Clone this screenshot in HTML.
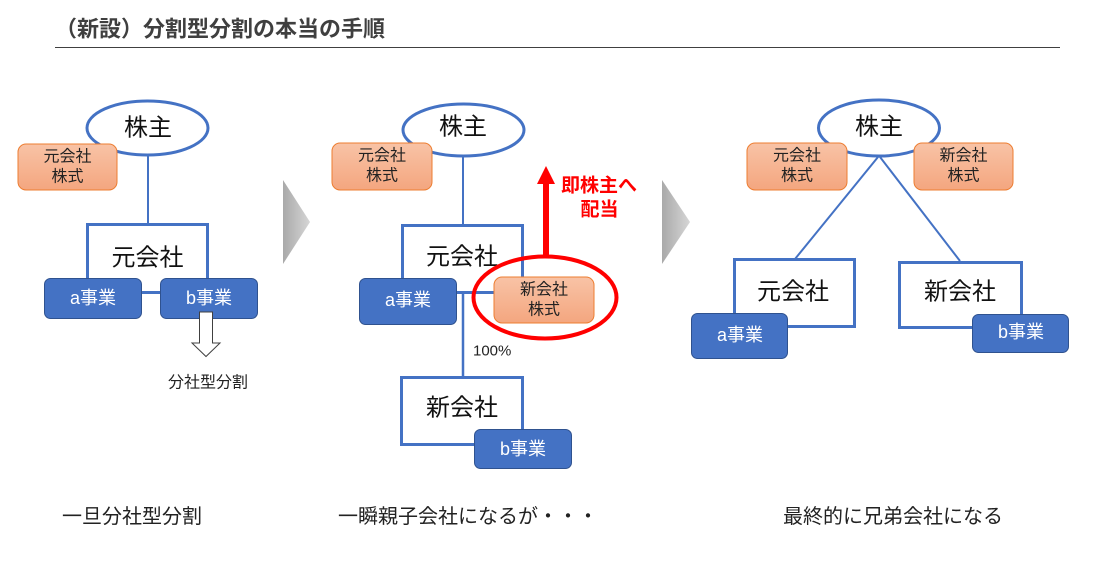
<!DOCTYPE html>
<html><head><meta charset="utf-8"><style>
html,body{margin:0;padding:0;background:#fff;}
svg{display:block;}
text{font-family:"Liberation Sans","Noto Sans CJK JP",sans-serif;}
</style></head><body>
<svg width="1095" height="564" viewBox="0 0 1095 564" xmlns="http://www.w3.org/2000/svg">
<defs>
<linearGradient id="og" x1="0" y1="0" x2="0" y2="1"><stop offset="0" stop-color="#f8c3a6"/><stop offset="1" stop-color="#f4a67f"/></linearGradient>
<linearGradient id="gg" x1="0" y1="0" x2="1" y2="0"><stop offset="0" stop-color="#a9a9a9"/><stop offset="1" stop-color="#d6d6d6"/></linearGradient>
</defs>
<rect width="1095" height="564" fill="#fff"/>
<!-- title -->
<text x="55" y="29" font-size="22" font-weight="bold" fill="#3f3f3f" dominant-baseline="central">（新設）分割型分割の本当の手順</text>
<line x1="55" y1="47.5" x2="1060" y2="47.5" stroke="#404040" stroke-width="1"/>

<!-- ===== Panel 1 ===== -->
<line x1="148" y1="156" x2="148" y2="224" stroke="#4472c4" stroke-width="2"/>
<ellipse cx="147.5" cy="128" rx="60.5" ry="27" fill="#fff" stroke="#4472c4" stroke-width="3"/>
<text x="148" y="128" font-size="24" fill="#111" text-anchor="middle" dominant-baseline="central">株主</text>
<rect x="18" y="144" width="99" height="46" rx="8" fill="url(#og)" stroke="#ed7d31" stroke-width="1"/>
<text x="67.5" y="157" font-size="16" fill="#222" text-anchor="middle" dominant-baseline="central">元会社</text>
<text x="67.5" y="177" font-size="16" fill="#222" text-anchor="middle" dominant-baseline="central">株式</text>
<rect x="87.5" y="224.5" width="120" height="68" fill="#fff" stroke="#4472c4" stroke-width="3"/>
<text x="147.5" y="258" font-size="24" fill="#111" text-anchor="middle" dominant-baseline="central">元会社</text>
<rect x="44.5" y="278.5" width="97" height="40" rx="6" fill="#4472c4" stroke="#2f528f" stroke-width="1"/>
<text x="93" y="298" font-size="18" fill="#fff" text-anchor="middle" dominant-baseline="central">a事業</text>
<rect x="160.5" y="278.5" width="97" height="40" rx="6" fill="#4472c4" stroke="#2f528f" stroke-width="1"/>
<text x="209" y="298" font-size="18" fill="#fff" text-anchor="middle" dominant-baseline="central">b事業</text>
<polygon points="199.5,312 212.5,312 212.5,343 220,343 206,356.5 192,343 199.5,343" fill="#fff" stroke="#404040" stroke-width="1"/>
<text x="208" y="383" font-size="16" fill="#222" text-anchor="middle" dominant-baseline="central">分社型分割</text>

<!-- gray arrow 1 -->
<polygon points="283,180 310,222 283,264" fill="url(#gg)"/>

<!-- ===== Panel 2 ===== -->
<line x1="463" y1="156" x2="463" y2="225" stroke="#4472c4" stroke-width="2"/>
<ellipse cx="463.5" cy="130" rx="60.5" ry="26" fill="#fff" stroke="#4472c4" stroke-width="3"/>
<text x="463" y="127" font-size="24" fill="#111" text-anchor="middle" dominant-baseline="central">株主</text>
<rect x="332" y="143" width="100" height="47" rx="8" fill="url(#og)" stroke="#ed7d31" stroke-width="1"/>
<text x="382" y="156" font-size="16" fill="#222" text-anchor="middle" dominant-baseline="central">元会社</text>
<text x="382" y="176" font-size="16" fill="#222" text-anchor="middle" dominant-baseline="central">株式</text>
<rect x="402.5" y="225.5" width="120" height="67" fill="#fff" stroke="#4472c4" stroke-width="3"/>
<text x="462" y="257" font-size="24" fill="#111" text-anchor="middle" dominant-baseline="central">元会社</text>
<line x1="463" y1="292" x2="463" y2="377" stroke="#4472c4" stroke-width="2.5"/>
<rect x="359.5" y="278.5" width="97" height="46" rx="6" fill="#4472c4" stroke="#2f528f" stroke-width="1"/>
<text x="408" y="300" font-size="18" fill="#fff" text-anchor="middle" dominant-baseline="central">a事業</text>
<rect x="494" y="277" width="100" height="46" rx="8" fill="url(#og)" stroke="#ed7d31" stroke-width="1"/>
<text x="544" y="290" font-size="16" fill="#222" text-anchor="middle" dominant-baseline="central">新会社</text>
<text x="544" y="310" font-size="16" fill="#222" text-anchor="middle" dominant-baseline="central">株式</text>
<ellipse cx="545" cy="297.5" rx="71.5" ry="41" fill="none" stroke="#f00" stroke-width="4"/>
<!-- red arrow -->
<rect x="543" y="182" width="6" height="75" fill="#f00"/>
<polygon points="537,184 555,184 546,166" fill="#f00"/>
<text x="599" y="186" font-size="19" font-weight="bold" fill="#f00" text-anchor="middle" dominant-baseline="central">即株主へ</text>
<text x="599.5" y="210" font-size="19" font-weight="bold" fill="#f00" text-anchor="middle" dominant-baseline="central">配当</text>
<text x="473" y="351" font-size="15" fill="#222" dominant-baseline="central">100%</text>
<rect x="401.5" y="377.5" width="121" height="67" fill="#fff" stroke="#4472c4" stroke-width="3"/>
<text x="462" y="408" font-size="24" fill="#111" text-anchor="middle" dominant-baseline="central">新会社</text>
<rect x="474.5" y="429.5" width="97" height="39" rx="6" fill="#4472c4" stroke="#2f528f" stroke-width="1"/>
<text x="523" y="449" font-size="18" fill="#fff" text-anchor="middle" dominant-baseline="central">b事業</text>

<!-- gray arrow 2 -->
<polygon points="662,180 690,222 662,264" fill="url(#gg)"/>

<!-- ===== Panel 3 ===== -->
<line x1="878" y1="157" x2="795" y2="259" stroke="#4472c4" stroke-width="2"/>
<line x1="880" y1="157" x2="960" y2="261" stroke="#4472c4" stroke-width="2"/>
<ellipse cx="879" cy="128" rx="60.5" ry="28" fill="#fff" stroke="#4472c4" stroke-width="3"/>
<text x="879" y="127" font-size="24" fill="#111" text-anchor="middle" dominant-baseline="central">株主</text>
<rect x="747" y="143" width="100" height="47" rx="8" fill="url(#og)" stroke="#ed7d31" stroke-width="1"/>
<text x="797" y="156" font-size="16" fill="#222" text-anchor="middle" dominant-baseline="central">元会社</text>
<text x="797" y="176" font-size="16" fill="#222" text-anchor="middle" dominant-baseline="central">株式</text>
<rect x="914" y="143" width="99" height="47" rx="8" fill="url(#og)" stroke="#ed7d31" stroke-width="1"/>
<text x="963.5" y="156" font-size="16" fill="#222" text-anchor="middle" dominant-baseline="central">新会社</text>
<text x="963.5" y="176" font-size="16" fill="#222" text-anchor="middle" dominant-baseline="central">株式</text>
<rect x="734.5" y="259.5" width="120" height="67" fill="#fff" stroke="#4472c4" stroke-width="3"/>
<text x="793" y="292" font-size="24" fill="#111" text-anchor="middle" dominant-baseline="central">元会社</text>
<rect x="899.5" y="262.5" width="122" height="65" fill="#fff" stroke="#4472c4" stroke-width="3"/>
<text x="960" y="292" font-size="24" fill="#111" text-anchor="middle" dominant-baseline="central">新会社</text>
<rect x="691.5" y="313.5" width="96" height="45" rx="6" fill="#4472c4" stroke="#2f528f" stroke-width="1"/>
<text x="740" y="335" font-size="18" fill="#fff" text-anchor="middle" dominant-baseline="central">a事業</text>
<rect x="972.5" y="314.5" width="96" height="38" rx="6" fill="#4472c4" stroke="#2f528f" stroke-width="1"/>
<text x="1021" y="332" font-size="18" fill="#fff" text-anchor="middle" dominant-baseline="central">b事業</text>

<!-- bottom captions -->
<text x="62" y="517" font-size="20" fill="#222" dominant-baseline="central">一旦分社型分割</text>
<text x="338" y="517" font-size="20" fill="#222" dominant-baseline="central">一瞬親子会社になるが・・・</text>
<text x="783" y="517" font-size="20" fill="#222" dominant-baseline="central">最終的に兄弟会社になる</text>
</svg>
</body></html>
